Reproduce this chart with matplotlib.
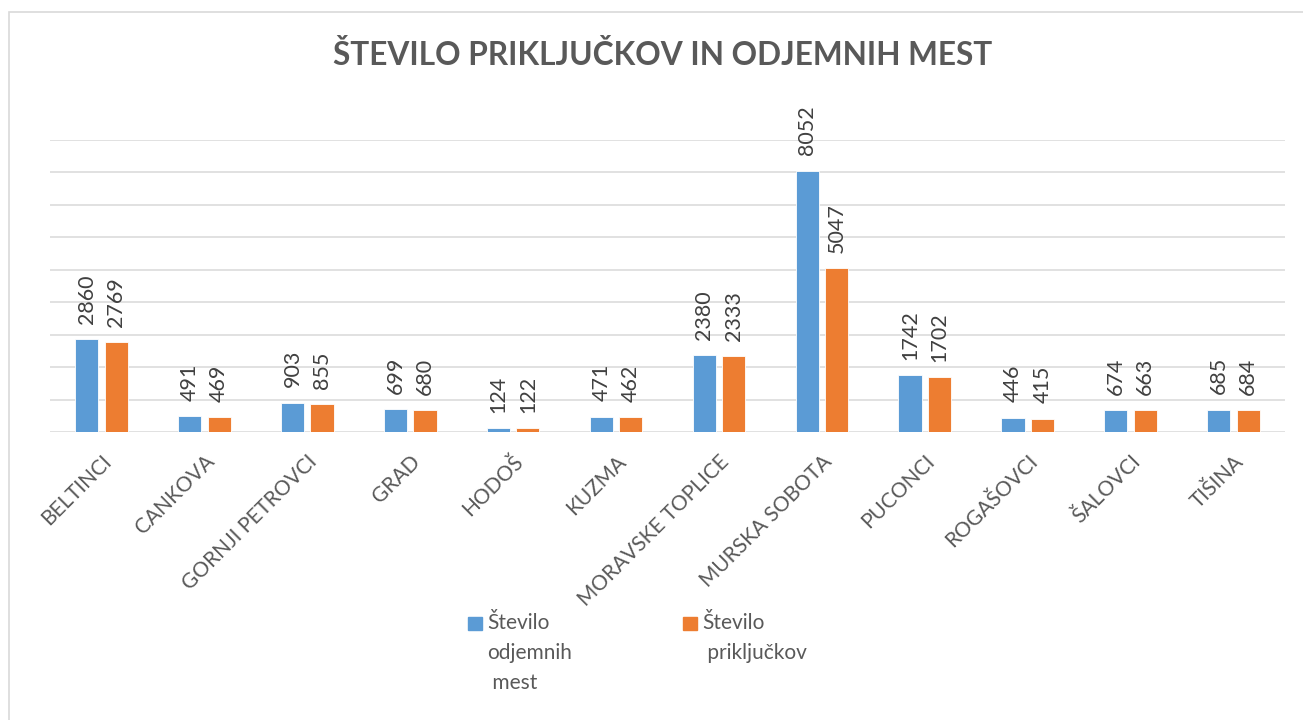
import matplotlib
matplotlib.use("Agg")
import matplotlib.pyplot as plt
from matplotlib.patches import Rectangle
import numpy as np

categories = ["BELTINCI", "CANKOVA", "GORNJI PETROVCI", "GRAD", "HODOŠ", "KUZMA",
              "MORAVSKE TOPLICE", "MURSKA SOBOTA", "PUCONCI", "ROGAŠOVCI", "ŠALOVCI", "TIŠINA"]
odjemna_mesta = [2860, 491, 903, 699, 124, 471, 2380, 8052, 1742, 446, 674, 685]
prikljucki = [2769, 469, 855, 680, 122, 462, 2333, 5047, 1702, 415, 663, 684]
series_names = ["Število\nodjemnih\n mest", "Število\n priključkov"]
title = "ŠTEVILO PRIKLJUČKOV IN ODJEMNIH MEST"

plt.rcParams['font.family'] = ['Lato', 'DejaVu Sans']

W, H = 1303, 720
fig = plt.figure(figsize=(W / 100, H / 100), dpi=100)
ax = fig.add_axes([50 / W, 1 - 432 / H, (1285 - 50) / W, (432 - 140) / H])

blue = "#5B9BD5"
orange = "#ED7D31"
grid_c = "#D9D9D9"
txt_c = "#404040"
lab_c = "#595959"

x = np.arange(len(categories))
bw = 0.225
off = 0.143
b1 = ax.bar(x - off, odjemna_mesta, bw, color=blue, edgecolor="white", linewidth=0.6, zorder=3)
b2 = ax.bar(x + off, prikljucki, bw, color=orange, edgecolor="white", linewidth=0.6, zorder=3)

for bars, vals in ((b1, odjemna_mesta), (b2, prikljucki)):
    for r, v in zip(bars, vals):
        ax.annotate(str(v), (r.get_x() + r.get_width() / 2, r.get_height()),
                    xytext=(0, 11), textcoords="offset points", rotation=90,
                    ha="center", va="bottom", fontsize=15.5, color=txt_c)

ax.set_xlim(-0.5, len(categories) - 0.5)
ax.set_ylim(0, 9000)
ax.set_yticks(np.arange(0, 9001, 1000))
ax.yaxis.grid(True, color=grid_c, linewidth=1.1)
ax.set_axisbelow(True)
ax.tick_params(axis="y", length=0, labelleft=False)
ax.tick_params(axis="x", length=0, pad=14)
ax.set_xticks(x)
ax.set_xticklabels(categories, rotation=45, ha="right", rotation_mode="anchor",
                   fontsize=15, color=lab_c)
for s in ax.spines.values():
    s.set_visible(False)

fig.text(663 / W, 1 - 55 / H, title, ha="center", va="center", fontsize=22.8,
         fontweight="bold", color=lab_c)

# legend
leg_x = [468, 683]
for lx, name, col in zip(leg_x, series_names, [blue, orange]):
    fig.patches.append(Rectangle((lx / W, 1 - 630 / H), 14 / W, 13 / H,
                                 transform=fig.transFigure, color=col))
    fig.text((lx + 19) / W, 1 - 613 / H, name, ha="left", va="top", fontsize=15,
             color=lab_c, linespacing=1.63)

# chart frame
fig.patches.append(Rectangle((8.5 / W, -0.1), 1.2, 1 - 11.5 / H + 0.1,
                             transform=fig.transFigure, fill=False,
                             edgecolor=grid_c, linewidth=1.2))

fig.savefig("out.png", dpi=100, facecolor="white")
